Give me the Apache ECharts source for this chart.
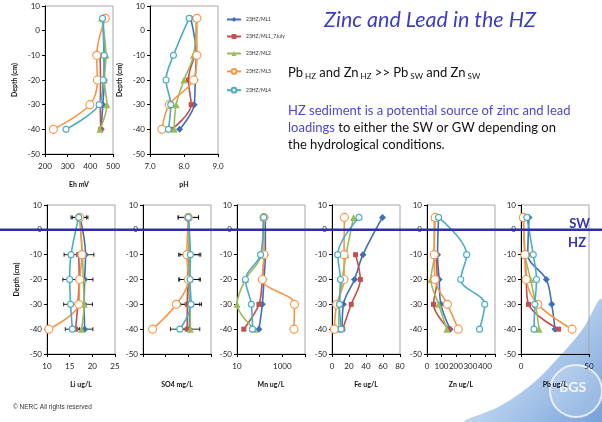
<!DOCTYPE html>
<html lang="en">
<head>
<meta charset="UTF-8">
<title>Zinc and Lead in the HZ</title>
<script src="https://cdn.jsdelivr.net/npm/echarts@6/dist/echarts.min.js"></script>
<style>
    html, body, #main {
        width: 602px;
        height: 422px;
        margin: 0;
        padding: 0;
        background: #fff;
    }
</style>
</head>
<body>
<div id="main"></div>
<script>
    var depths = [5, -10, -20, -30, -40];
    var wells = ["23HZ/ML1", "23HZ/ML1_7July", "23HZ/ML2", "23HZ/ML3", "23HZ/ML4"];

    // one row per well (same order as wells), one value per depth
    var eh = [
        [457, 460, 462, 455, 448],
        [null, 443, 445, 444, 446],
        [450, 469, 462, 473, 442],
        [466, 428, 431, 398, 237],
        [454, 461, 457, 439, 293]
    ];
    var ph = [
        [8.20, 8.36, 8.33, 8.30, 7.87],
        [null, 8.33, 8.13, 8.21, 7.64],
        [8.36, 8.28, 8.00, 7.77, 7.71],
        [8.38, 8.38, 8.28, 7.57, 7.35],
        [8.15, 7.69, 7.47, 7.61, 7.54]
    ];
    var li = [
        [17.3, 18.5, 18.3, 18.2, 18.3],
        [null, 17.0, 17.1, 16.8, 16.3],
        [17.2, 17.8, 18.0, 18.2, 17.6],
        [17.2, 17.7, 17.2, 17.0, 10.4],
        [17.0, 15.3, 15.0, 15.2, 15.6]
    ];
    var so4 = [
        [90, 90.5, 90.5, 91, 91],
        [null, 89.5, 89.5, 89, 89],
        [90, 90.5, 91, 91.5, 91.8],
        [90, 88.8, 90, 79.4, 58.5],
        [90, 91.8, 91.5, 92.4, 82.5]
    ];
    var mn = [
        [178, 178, 155, 131, 93],
        [null, 160, 130, 93, 20],
        [141, 119, 23.5, 10, 60],
        [155, 155, 131, 3450, 3250],
        [150, 110, 23.5, 43, 48]
    ];
    var fe = [
        [59.4, 36.4, 26.5, 13.4, 11.9],
        [null, 27.7, 33.3, 22.6, 12.6],
        [25.3, 16.6, 11.9, 8.7, 7.9],
        [14.6, 14.2, 14.2, 5.5, 2.8],
        [31.7, 6.7, 9.9, 8.7, 10.7]
    ];
    var zn = [
        [80, 73, 84, 96, 160],
        [null, 62, 70, 45, 153],
        [50, 50, 27, 80, 137],
        [57, 50, 55, 141, 216],
        [80, 274, 233, 399, 363]
    ];
    var pb = [
        [5.9, 5.0, 18.6, 22.6, 25.0],
        [null, 3.1, 3.8, 5.5, 27.6],
        [1.9, 2.9, 7.1, 10.7, 13.3],
        [1.7, 2.9, 3.8, 12.4, 37.6],
        [4.3, 9.0, 11.4, 10.2, 9.5]
    ];
    // +/- 10% error bars on ML1 and ML4 (Li, SO4)
    var errPct = 0.1;
    var errWells = [0, 4];

    var colors = ["#3f6fb6", "#c0504d", "#9bbb59", "#f79646", "#4bacc6"];
    var symbols = ["diamond", "rect", "triangle", "circle", "circle"];
    var sizes = [7, 5, 7, 8, 6];
    var hollow = [false, false, false, true, true];

    var panels = [
        {rows: eh, name: "Eh mV", min: 200, max: 500, interval: 100, left: 45, top: 6, h: 148, depth: true},
        {rows: ph, name: "pH", min: 7, max: 9, interval: 1, left: 150, top: 6, h: 148, depth: true, dec: 1},
        {rows: li, name: "Li ug/L", min: 10, max: 25, interval: 5, left: 47, top: 205, h: 149, depth: true, err: true},
        {rows: so4, name: "SO4 mg/L", min: 50, max: 110, interval: 20, left: 143, top: 205, h: 149, err: true},
        {rows: mn, name: "Mn ug/L", log: true, min: 10, max: 10000, left: 237, top: 205, h: 149},
        {rows: fe, name: "Fe ug/L", min: 0, max: 80, interval: 20, left: 332, top: 205, h: 149},
        {rows: zn, name: "Zn ug/L", min: 0, max: 470, interval: 100, left: 427, top: 205, h: 149},
        {rows: pb, name: "Pb ug/L", min: 0, max: 50, interval: 50, left: 521, top: 205, h: 149}
    ];

    var grids = [], xAxes = [], yAxes = [], series = [];
    var tickFont = "Lato";

    panels.forEach(function (p, i) {
        grids.push({
            left: p.left, top: p.top, width: 68, height: p.h,
            show: true, borderColor: "#a6a6a6", borderWidth: 1, backgroundColor: "transparent"
        });
        var xa = {
            gridIndex: i,
            type: p.log ? "log" : "value",
            min: p.min, max: p.max,
            axisLine: {show: true, onZero: false, lineStyle: {color: "#000", width: 1}},
            axisTick: {show: true, length: 3, lineStyle: {color: "#000"}},
            splitLine: {show: false},
            axisLabel: {fontSize: 8, color: "#222", margin: 8, fontFamily: tickFont, showMaxLabel: true},
            name: p.name, nameLocation: "middle", nameGap: 27,
            nameTextStyle: {fontSize: 7, fontWeight: "bold", color: "#111", fontFamily: tickFont}
        };
        if (p.log) {
            xa.logBase = 10;
            xa.axisLabel.formatter = function (v) { return (v === 10 || v === 1000) ? String(v) : ""; };
        } else {
            xa.interval = p.interval;
            if (p.dec) xa.axisLabel.formatter = function (v) { return v.toFixed(p.dec); };
            if (p.max % p.interval !== 0) {
                xa.axisLabel.formatter = function (v) { return v % p.interval === 0 ? String(v) : ""; };
            }
        }
        xAxes.push(xa);
        yAxes.push({
            gridIndex: i, type: "value", min: -50, max: 10, interval: 10,
            axisLine: {show: true, lineStyle: {color: "#000", width: 1}},
            axisTick: {show: true, length: 3, lineStyle: {color: "#000"}},
            splitLine: {show: false},
            axisLabel: {fontSize: 8, color: "#222", margin: 5, fontFamily: tickFont},
            name: p.depth ? "Depth (cm)" : "", nameLocation: "middle", nameGap: 27, nameRotate: 90,
            nameTextStyle: {fontSize: 7, fontWeight: "bold", color: "#111", fontFamily: tickFont}
        });

        if (p.err) {
            var ed = [];
            errWells.forEach(function (w) {
                depths.forEach(function (d, k) {
                    var v = p.rows[w][k];
                    if (v != null) ed.push([v, d, v * errPct]);
                });
            });
            series.push({
                type: "custom", xAxisIndex: i, yAxisIndex: i, silent: true, z: 1,
                encode: {x: 0, y: 1},
                data: ed,
                renderItem: function (params, api) {
                    var x = api.value(0), y = api.value(1), e = api.value(2);
                    var a = api.coord([x - e, y]), b = api.coord([x + e, y]);
                    var st = {stroke: "#111", lineWidth: 0.9};
                    return {
                        type: "group", children: [
                            {type: "line", shape: {x1: a[0], y1: a[1], x2: b[0], y2: b[1]}, style: st},
                            {type: "line", shape: {x1: a[0], y1: a[1] - 2, x2: a[0], y2: a[1] + 2}, style: st},
                            {type: "line", shape: {x1: b[0], y1: b[1] - 2, x2: b[0], y2: b[1] + 2}, style: st}
                        ]
                    };
                }
            });
        }

        wells.forEach(function (name, w) {
            var data = [];
            depths.forEach(function (d, k) {
                var v = p.rows[w][k];
                if (v != null) data.push([v, d]);
            });
            series.push({
                type: "line", name: name, xAxisIndex: i, yAxisIndex: i,
                data: data, smooth: 0.35,
                symbol: symbols[w], symbolSize: sizes[w],
                lineStyle: {width: 1.6, color: colors[w]},
                itemStyle: {
                    color: hollow[w] ? "#fff" : colors[w],
                    borderColor: colors[w],
                    borderWidth: hollow[w] ? 1.1 : 0
                },
                z: 2 + w, animation: false
            });
        });
    });

    var chart = echarts.init(document.getElementById("main"));
    chart.setOption({
        animation: false,
        grid: grids,
        xAxis: xAxes,
        yAxis: yAxes,
        legend: {
            data: wells, orient: "vertical", left: 221, top: 12,
            itemWidth: 14, itemHeight: 6, itemGap: 12,
            textStyle: {fontSize: 5, color: "#333", fontFamily: tickFont}
        },
        series: series
    });

    // SW / HZ boundary at depth 0 across the whole slide
    var y0 = chart.convertToPixel({xAxisIndex: 2, yAxisIndex: 2}, [10, 0])[1];

    chart.setOption({
        graphic: [
            {
                type: "text", left: 324, top: 9, z: 20,
                style: {text: "Zinc and Lead in the HZ", fontSize: 21.5, fontStyle: "italic", fontFamily: "Lato", fill: "#3d3dc2"}
            },
            {
                type: "text", left: 288, top: 66, z: 20,
                style: {
                    text: "Pb{s| HZ} and Zn{s| HZ} >> Pb{s| SW} and Zn{s| SW}",
                    fontSize: 13, fontFamily: "Lato", fill: "#111",
                    rich: {s: {fontSize: 8, fontFamily: "Lato", fill: "#111", padding: [8, 0, 0, 0]}}
                }
            },
            {
                type: "text", left: 288, top: 102, z: 20,
                style: {
                    text: "{b|HZ sediment is a potential source of zinc and lead}\n{b|loadings} to either the SW or GW depending on\nthe hydrological conditions.",
                    fontSize: 13, lineHeight: 17, fontFamily: "Lato", fill: "#111",
                    rich: {b: {fontSize: 13, lineHeight: 17, fontFamily: "Lato", fill: "#4848d4"}}
                }
            },
            {
                type: "text", left: 13, top: 404, z: 20,
                style: {text: "\u00a9 NERC All rights reserved", fontSize: 6.5, fontFamily: "Liberation Sans", fill: "#333"}
            },
            {
                type: "line", z: 15,
                shape: {x1: 0, y1: y0, x2: 602, y2: y0},
                style: {stroke: "#2e2eaa", lineWidth: 2.5}
            },
            {
                type: "text", right: 12, top: y0 - 13, z: 20,
                style: {text: "SW", fontSize: 13, fontWeight: "bold", fontFamily: "Lato", fill: "#3434ad"}
            },
            {
                type: "text", right: 16, top: y0 + 6, z: 20,
                style: {text: "HZ", fontSize: 13, fontWeight: "bold", fontFamily: "Lato", fill: "#3434ad"}
            },
            {
                type: "polygon", z: -2,
                shape: {
                    points: [[466, 422], [500, 406], [532, 384], [558, 358], [582, 330], [602, 300], [602, 422]],
                    smooth: 0.4
                },
                style: {
                    fill: new echarts.graphic.LinearGradient(0, 0, 1, 1, [
                        {offset: 0, color: "rgba(235,242,250,0.6)"},
                        {offset: 0.45, color: "rgba(170,200,235,0.85)"},
                        {offset: 1, color: "rgba(95,145,210,0.95)"}
                    ])
                }
            },
            {
                type: "circle", z: -1,
                shape: {cx: 576, cy: 391, r: 26},
                style: {fill: "rgba(255,255,255,0.18)", stroke: "rgba(255,255,255,0.75)", lineWidth: 2}
            },
            {
                type: "text", z: -1, left: 559, top: 380,
                style: {text: "BGS", fontSize: 14, fontWeight: "bold", fontFamily: "Lato", fill: "rgba(255,255,255,0.85)"}
            }
        ]
    });
</script>
</body>
</html>
